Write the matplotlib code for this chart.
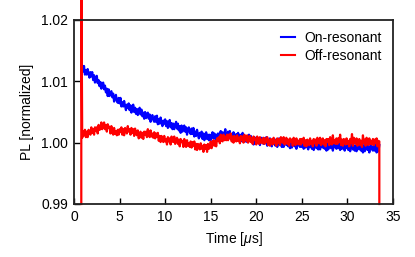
import numpy as np
import matplotlib
matplotlib.use("Agg")
import matplotlib.pyplot as plt

plt.rcParams['font.family'] = ['Liberation Sans', 'DejaVu Sans']
plt.rcParams['mathtext.fontset'] = 'custom'
plt.rcParams['mathtext.it'] = 'Liberation Sans:italic'
plt.rcParams['mathtext.rm'] = 'Liberation Sans'

# sampling grid (microseconds)
t_start = 0.9
t_step = 0.1

# PL deviations from 1, in units of 1e-4 (one row per microsecond)
on_resonant = [
    125, 116, 125, 111, 118, 111, 120, 113, 106, 115,
    108, 115, 102, 110, 98, 104, 109, 97, 102, 92,
    99, 88, 94, 98, 87, 93, 82, 88, 76, 87,
    76, 82, 84, 74, 80, 67, 74, 78, 68, 65,
    73, 64, 73, 59, 66, 59, 68, 60, 53, 62,
    57, 64, 53, 61, 49, 57, 62, 50, 57, 47,
    55, 45, 52, 57, 46, 54, 43, 49, 39, 50,
    40, 46, 49, 39, 46, 34, 41, 45, 37, 34,
    43, 34, 44, 30, 38, 31, 41, 33, 27, 36,
    31, 38, 27, 35, 24, 31, 37, 25, 32, 22,
    31, 22, 28, 34, 23, 31, 20, 27, 16, 28,
    18, 24, 28, 18, 25, 13, 21, 25, 17, 14,
    23, 14, 24, 10, 18, 11, 21, 13, 7, 16,
    10, 18, 6, 15, 4, 12, 17, 6, 13, 4,
    13, 4, 11, 17, 7, 15, 6, 13, 3, 15,
    7, 14, 19, 10, 17, 6, 14, 22, 11, 9,
    18, 10, 19, 6, 14, 8, 17, 10, 4, 14,
    8, 16, 4, 13, 2, 10, 16, 4, 11, 2,
    10, 1, 7, 13, 3, 11, 1, 7, -3, 9,
    -1, 6, 9, 0, 7, -4, 4, 8, 0, -2,
    7, -1, 9, -5, 3, -3, 7, 0, -6, 4,
    -2, 6, -5, 4, -7, 1, 7, -4, 2, -7,
    2, -7, 0, 6, -4, 4, -6, 1, -9, 3,
    -8, -1, 3, -6, 1, -10, -2, 3, -5, -7,
    1, -7, 3, -10, -2, -8, 2, -5, -11, -1,
    -7, 1, -10, -1, -12, -4, 2, -9, -2, -11,
    -2, -11, -4, 2, -8, 0, -10, -3, -13, -1,
    -11, -4, 0, -9, -2, -13, -5, 0, -8, -10,
    -1, -9, 1, -12, -4, -10, 0, -7, -13, -3,
    -9, -1, -12, -3, -14, -6, 0, -11, -4, -13,
    -5, -14, -7, -1, -11, -3, -13, -6, -16, -4,
    -14, -7, -3, -12, -5, -16, -8, -3, -11, -13,
    -5, -13, -3, -16, -8, -14, -4,
]
off_resonant = [
    8, 18, 12, 21, 9, 18, 9, 21, 18, 13,
    25, 16, 22, 13, 25, 19, 25, 15, 29, 21,
    22, 33, 22, 28, 33, 22, 29, 18, 30, 24,
    26, 15, 27, 17, 13, 24, 14, 19, 12, 21,
    13, 22, 17, 25, 13, 22, 12, 24, 21, 15,
    27, 18, 22, 13, 24, 16, 22, 11, 23, 15,
    12, 20, 7, 13, 18, 8, 16, 6, 18, 13,
    18, 9, 22, 13, 9, 20, 10, 15, 8, 17,
    7, 15, 9, 16, 3, 11, 1, 11, 8, 1,
    11, 2, 6, -3, 9, 2, 7, -3, 10, 2,
    1, 10, -2, 3, 8, -2, 5, -6, 6, 1,
    3, -7, 6, -4, -7, 4, -5, -1, -7, 2,
    -8, 1, -5, 2, -11, -2, -12, -2, -5, -11,
    -1, -10, -5, -15, -3, -10, -4, -15, -2, -10,
    -8, 2, -9, -2, 4, -5, 3, -6, 7, 3,
    9, -1, 13, 4, 2, 13, 4, 10, 4, 13,
    4, 13, 7, 15, 2, 10, 0, 11, 8, 2,
    12, 3, 8, -1, 11, 4, 10, 0, 13, 5,
    3, 12, 0, 6, 11, 1, 8, -2, 10, 5,
    7, -3, 10, 1, -2, 9, 0, 5, -1, 8,
    -2, 7, 1, 9, -4, 5, -5, 6, 3, -3,
    8, -1, 4, -5, 7, 0, 6, -4, 9, 1,
    0, 9, -3, 3, 8, -2, 5, -5, 7, 2,
    5, -5, 8, -1, -4, 7, -2, 3, -3, 6,
    -3, 6, 0, 8, -5, 4, -6, 5, 2, -4,
    7, -2, 3, -6, 6, -1, 5, -5, 8, 0,
    -1, 8, -4, 2, 7, -3, 4, -6, 6, 1,
    6, -4, 9, 0, -3, 12, -1, 4, -2, 7,
    -2, 7, 1, 13, -4, 5, -5, 6, 3, -3,
    7, -2, 3, -6, 6, -1, 14, -5, 8, 0,
    -2, 7, -5, 1, 6, -4, 3, -7, 12, 0,
    5, -5, 8, -1, -4, 7, -2, 3, -3, 6,
    -4, 5, -1, 7, -6, 3, 2,
]
# off-resonant trace: switching transients at start and end
off_start_t = [0.8, 0.8]
off_start_v = [0.99, 1.03]
off_end_t = [33.5]
off_end_v = [0.99]

time = t_start + t_step * np.arange(len(on_resonant))
on_v = 1 + np.array(on_resonant) * 1e-4
off_v = 1 + np.array(off_resonant) * 1e-4
off_t_full = np.concatenate([off_start_t, time, off_end_t])
off_v_full = np.concatenate([off_start_v, off_v, off_end_v])

fig = plt.figure(figsize=(4.15, 2.57), dpi=100)
ax = fig.add_axes([74/415, 1-204/257, (393-74)/415, (204-20)/257])

ax.plot(time, on_v, color=(0, 0, 1), lw=1.6, label='On-resonant')
ax.plot(off_t_full, off_v_full, color=(1, 0, 0), lw=1.6, label='Off-resonant', clip_on=False)

ax.set_xlim(0, 35)
ax.set_ylim(0.99, 1.02)
ax.set_xticks([0, 5, 10, 15, 20, 25, 30, 35])
ax.set_yticks([0.99, 1.00, 1.01, 1.02])
ax.set_yticklabels(['0.99', '1.00', '1.01', '1.02'])
ax.tick_params(direction='in', length=4, width=1, labelsize=10, pad=4.5,
               top=False, right=False, colors='black')
for s in ax.spines.values():
    s.set_linewidth(1.3)
    s.set_color('#222222')

ax.set_xlabel('Time [$\\mu$s]', fontsize=10, labelpad=4)
ax.set_ylabel('PL [normalized]', fontsize=10, labelpad=5)

leg = ax.legend(loc='upper right', frameon=False, fontsize=10,
                handlelength=1.0, handletextpad=0.7, labelspacing=0.3,
                borderaxespad=0.4)
for line in leg.get_lines():
    line.set_linewidth(1.5)

fig.savefig('out.png', dpi=100)
